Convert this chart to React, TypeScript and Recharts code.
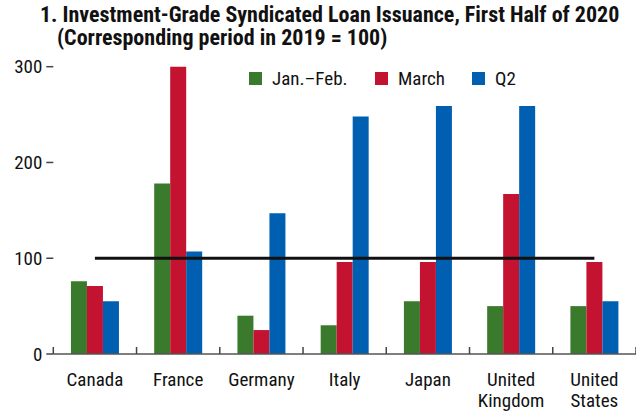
import { Bar, ComposedChart, Line, XAxis, YAxis } from "recharts";

const countries = ["Canada", "France", "Germany", "Italy", "Japan", "United Kingdom", "United States"];
const janFeb = [76, 178, 40, 30, 55, 50, 50];
const march = [71, 300, 25, 96, 96, 167, 96];
const q2 = [55, 107, 147, 248, 259, 259, 55];
const baseline = [100, 100, 100, 100, 100, 100, 100];
const yTicks = [0, 100, 200, 300];

const series = [
  { key: "janFeb", name: "Jan.\u2013Feb.", color: "#3a7a2d", slot: 126 },
  { key: "march", name: "March", color: "#c41331", slot: 97 },
  { key: "q2", name: "Q2", color: "#005fb0", slot: 50 },
];

const data = countries.map((c, i) => ({
  country: c,
  janFeb: janFeb[i],
  march: march[i],
  q2: q2[i],
  baseline: baseline[i],
}));

const FONT = "'Liberation Sans Narrow', 'Roboto Condensed', 'Arial Narrow', sans-serif";

const CountryTick = (props: any) => {
  const { x, y, payload, index } = props;
  const off = payload.offset ?? 41.6;
  const words = String(payload.value).startsWith("United")
    ? ["United", String(payload.value).slice(7)]
    : [String(payload.value)];
  return (
    <g>
      {index === 0 && (
        <line x1={x - off} x2={x - off} y1={y} y2={y - 7} stroke="#444" strokeWidth={1.5} />
      )}
      <line x1={x + off} x2={x + off} y1={y} y2={y - 7} stroke="#444" strokeWidth={1.5} />
      {words.map((w, i) => (
        <text
          key={w}
          x={x}
          y={y + 32 + i * 21}
          textAnchor="middle"
          fontFamily={FONT}
          fontSize={19}
          fill="#111"
        >
          {w}
        </text>
      ))}
    </g>
  );
};

export default function App() {
  return (
    <div style={{ position: "absolute", left: 0, top: 0, width: 636, height: 416, background: "#fff" }}>
      <div
        style={{
          position: "absolute",
          left: 40,
          top: 3,
          fontFamily: FONT,
          fontWeight: "bold",
          fontSize: 22,
          lineHeight: "23px",
          color: "#111",
          whiteSpace: "nowrap",
          zIndex: 1,
        }}
      >
        <div>1. Investment-Grade Syndicated Loan Issuance, First Half of 2020</div>
        <div style={{ paddingLeft: 17 }}>(Corresponding period in 2019 = 100)</div>
      </div>
      <div
        style={{
          position: "absolute",
          left: 249,
          top: 67,
          display: "flex",
          alignItems: "center",
          fontFamily: FONT,
          fontSize: 19,
          color: "#111",
          zIndex: 1,
        }}
      >
        {series.map((s) => (
          <div key={s.key} style={{ display: "flex", alignItems: "center", width: s.slot }}>
            <span style={{ width: 13, height: 13, background: s.color, display: "inline-block", marginRight: 10 }} />
            <span>{s.name}</span>
          </div>
        ))}
      </div>
      <ComposedChart
        width={636}
        height={416}
        data={data}
        margin={{ top: 66.7, right: 0, bottom: 0, left: 0 }}
        barCategoryGap="21.2%"
        barGap={0}
      >
        <XAxis
          dataKey="country"
          height={62}
          interval={0}
          tickLine={false}
          tickSize={0}
          tickMargin={0}
          axisLine={{ stroke: "#555", strokeWidth: 1.5 }}
          tick={<CountryTick />}
        />
        <YAxis
          width={53.3}
          domain={[0, 300]}
          ticks={yTicks}
          axisLine={false}
          tickSize={7}
          tickMargin={4}
          tickLine={{ stroke: "#444", strokeWidth: 1.5 }}
          tick={{ fontFamily: FONT, fontSize: 19, fill: "#111" }}
        />
        {series.map((s) => (
          <Bar key={s.key} dataKey={s.key} name={s.name} fill={s.color} isAnimationActive={false} />
        ))}
        <Line
          dataKey="baseline"
          stroke="#111"
          strokeWidth={3}
          dot={false}
          legendType="none"
          isAnimationActive={false}
        />
      </ComposedChart>
    </div>
  );
}
